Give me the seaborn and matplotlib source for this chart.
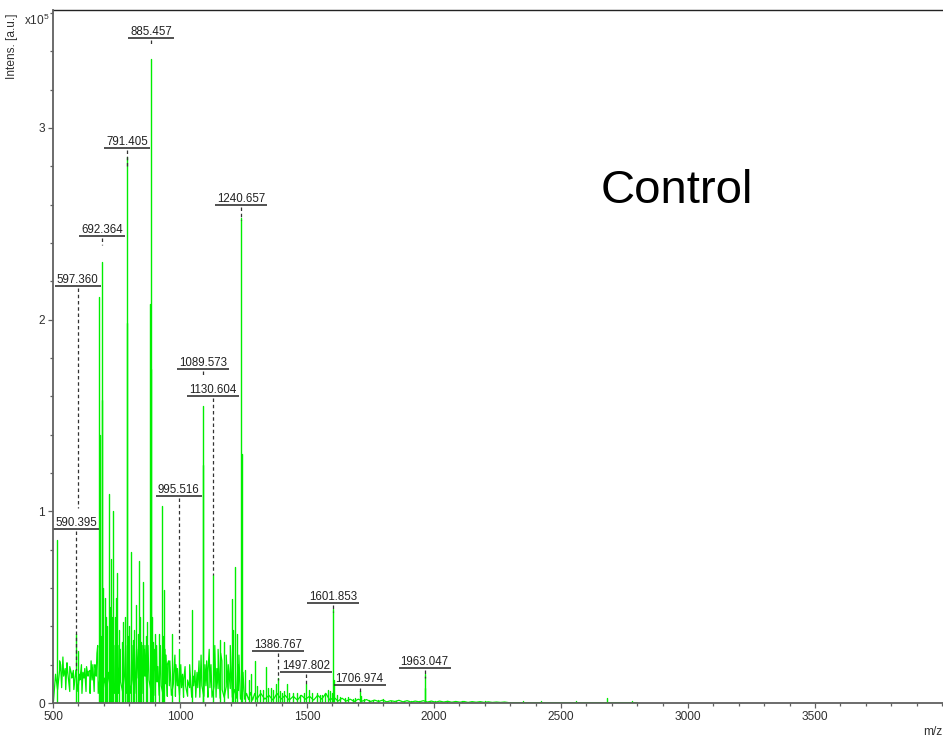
import numpy as np
import pandas as pd
import matplotlib
matplotlib.use("Agg")
import matplotlib.pyplot as plt
import seaborn as sns
from matplotlib.ticker import MultipleLocator

# ---------------- data (intensity in units of 1e5 a.u.) ----------------
# resolved peaks, drawn as sticks from the baseline
peak_mz = [516, 590.395, 597.360, 681, 684, 688, 692.364, 694, 698, 703, 709, 714, 720, 724,
           728, 732, 736, 744, 748, 752, 760, 770, 775, 782, 791.405, 793, 797, 800, 807,
           815, 820, 826, 833, 840, 844, 848, 855, 866, 870, 880, 885.457, 887, 891, 895,
           903, 917, 929, 933, 937, 968, 995.516, 1047, 1089.573, 1092, 1130.604, 1157,
           1173, 1205, 1210, 1217, 1224, 1240.657, 1243, 1256, 1270, 1280, 1295,
           1305, 1315, 1325, 1338, 1345, 1357, 1365, 1377, 1386.767, 1395, 1400, 1410,
           1421, 1430, 1445, 1460, 1472, 1490, 1497.802, 1508, 1520, 1539, 1550, 1560,
           1570, 1583, 1590, 1598, 1601.853, 1606, 1620, 1630, 1650, 1660, 1680, 1690,
           1706.974, 1712, 1725, 1744, 1760, 1780, 1800, 1830, 1850, 1880, 1909, 1940,
           1963.047, 1966, 1985, 2004, 2050, 2110, 2200, 2350, 2420, 2560, 2680, 2780]
peak_int = [0.85, 0.36, 0.27, 2.12, 1.40, 0.35, 2.30, 1.58, 0.60, 0.55, 0.45, 0.40, 1.09, 0.50,
            0.75, 0.45, 1.00, 0.45, 0.55, 0.68, 0.38, 0.32, 0.42, 0.45, 2.85, 1.98, 0.35, 0.40, 0.79,
            0.33, 0.38, 0.51, 0.36, 0.74, 0.45, 0.32, 0.63, 0.35, 0.42, 2.08, 3.36, 1.74, 0.45, 0.32,
            0.36, 0.36, 1.03, 0.35, 0.59, 0.36, 0.28, 0.485, 1.55, 1.24, 0.67, 0.33,
            0.32, 0.54, 0.38, 0.71, 0.36, 2.53, 1.30, 0.17, 0.12, 0.15, 0.22,
            0.09, 0.07, 0.07, 0.19, 0.08, 0.08, 0.07, 0.10, 0.13, 0.06, 0.05, 0.06,
            0.10, 0.05, 0.05, 0.05, 0.04, 0.05, 0.10, 0.07, 0.05, 0.05, 0.04, 0.04,
            0.05, 0.07, 0.06, 0.05, 0.49, 0.12, 0.04, 0.03, 0.025, 0.03, 0.02, 0.025,
            0.06, 0.035, 0.02, 0.015, 0.015, 0.015, 0.02, 0.012, 0.012, 0.010, 0.012, 0.010,
            0.15, 0.08, 0.012, 0.012, 0.008, 0.010, 0.008, 0.012, 0.010, 0.008, 0.025, 0.008]

# small peaks riding on the chemical noise (part of the profile trace)
minor_mz = [526, 530, 539, 545, 548, 555, 566, 573, 580, 604, 612, 618, 625, 632, 638, 645,
            650, 657, 665, 668, 673, 676, 740, 756, 765, 786, 811, 829, 837, 851, 858, 862,
            874, 899, 908, 913, 923, 941, 945, 950, 955, 960, 975, 980, 984, 990, 1003, 1010,
            1015, 1020, 1030, 1038, 1052, 1059, 1067, 1075, 1083, 1098, 1105, 1110, 1115,
            1122, 1137, 1145, 1150, 1160, 1165, 1182, 1190, 1198, 1228, 1232, 1248]
minor_int = [0.22, 0.20, 0.24, 0.16, 0.18, 0.21, 0.19, 0.15, 0.17, 0.15, 0.20, 0.16, 0.18, 0.19, 0.16, 0.17,
             0.22, 0.20, 0.20, 0.18, 0.26, 0.30, 0.30, 0.30, 0.28, 0.30, 0.30, 0.28, 0.30, 0.30, 0.28, 0.30,
             0.30, 0.28, 0.30, 0.19, 0.30, 0.28, 0.25, 0.20, 0.22, 0.22, 0.15, 0.25, 0.20, 0.18, 0.20, 0.15,
             0.12, 0.19, 0.12, 0.20, 0.14, 0.17, 0.16, 0.22, 0.25, 0.20, 0.22, 0.16, 0.28,
             0.20, 0.30, 0.18, 0.28, 0.26, 0.22, 0.25, 0.20, 0.30, 0.20, 0.25, 0.16]

# background noise, 502..1294 sampled every 8 Da
noise_lo_int = [0.01, 0.15, 0.07, 0.17, 0.08, 0.14, 0.07, 0.16, 0.06, 0.13,
                0.07, 0.17, 0.06, 0.12, 0.05, 0.13, 0.06, 0.14, 0.05, 0.12,
                0.06, 0.14, 0.05, 0.15, 0.06, 0.13, 0.05, 0.16, 0.06, 0.14,
                0.05, 0.13, 0.05, 0.11, 0.06, 0.15, 0.05, 0.12, 0.05, 0.12,
                0.05, 0.13, 0.06, 0.11, 0.05, 0.14, 0.05, 0.12, 0.06, 0.13,
                0.04, 0.11, 0.04, 0.09, 0.04, 0.10, 0.035, 0.09, 0.04, 0.10,
                0.035, 0.09, 0.04, 0.08, 0.03, 0.09, 0.035, 0.08, 0.03, 0.09,
                0.03, 0.08, 0.03, 0.09, 0.035, 0.09, 0.03, 0.08, 0.03, 0.085,
                0.03, 0.075, 0.025, 0.07, 0.03, 0.085, 0.025, 0.075, 0.03, 0.07,
                0.025, 0.065, 0.02, 0.06, 0.02, 0.05, 0.018, 0.055, 0.015, 0.05]
# background noise, 1302..2294 sampled every 16 Da
noise_hi_int = [0.02, 0.05, 0.02, 0.04, 0.015, 0.05, 0.02, 0.04, 0.015, 0.035,
                0.015, 0.04, 0.02, 0.035, 0.015, 0.04, 0.02, 0.05, 0.015, 0.03,
                0.01, 0.025, 0.01, 0.02, 0.008, 0.02, 0.01, 0.018, 0.008, 0.015,
                0.008, 0.015, 0.006, 0.012, 0.008, 0.014, 0.006, 0.012, 0.005, 0.01,
                0.006, 0.012, 0.005, 0.01, 0.004, 0.01, 0.005, 0.009, 0.004, 0.008,
                0.004, 0.008, 0.003, 0.007, 0.004, 0.007, 0.003, 0.006, 0.003, 0.005,
                0.003, 0.005, 0.002]
tail_mz = [500, 2310, 2800]
tail_int = [0.0, 0.002, 0.002]

labels = ["885.457", "791.405", "692.364", "597.360", "590.395", "1240.657", "1089.573",
          "1130.604", "995.516", "1601.853", "1386.767", "1497.802", "1706.974", "1963.047"]
# layout of the annotations (underline level, leader end level) in data units
label_line_y = [3.470, 2.896, 2.437, 2.176, 0.908, 2.598, 1.743, 1.602, 1.080, 0.522,
                0.271, 0.162, 0.092, 0.183]
label_leader_end = [3.428, 2.797, 2.390, 1.017, 0.172, 2.520, 1.700, 0.668, 0.313, 0.475,
                    0.120, 0.094, 0.057, 0.130]

xticks = [500, 1000, 1500, 2000, 2500, 3000, 3500]
yticks = [0, 1, 2, 3]

# ---------------- build tables ----------------
noise_lo_mz = 502 + 8 * np.arange(len(noise_lo_int))
noise_hi_mz = 1302 + 16 * np.arange(len(noise_hi_int))
profile = pd.DataFrame({
    "mz": np.concatenate([tail_mz, noise_lo_mz, noise_hi_mz, minor_mz]).astype(float),
    "intensity": np.concatenate([tail_int, noise_lo_int, noise_hi_int, minor_int]).astype(float),
}).sort_values("mz", kind="mergesort").reset_index(drop=True)
n = len(peak_mz)
sticks = pd.DataFrame({
    "peak": np.repeat(np.arange(n), 2),
    "mz": np.repeat(np.asarray(peak_mz, float), 2),
    "intensity": np.ravel(np.column_stack([np.zeros(n), np.asarray(peak_int, float)])),
})

# ---------------- figure ----------------
sns.set_style("ticks")
plt.rcParams["font.family"] = ["Liberation Sans", "DejaVu Sans"]
plt.rcParams["mathtext.fontset"] = "custom"
plt.rcParams["mathtext.rm"] = "Liberation Sans"
plt.rcParams["mathtext.it"] = "Liberation Sans:italic"

W, H = 943, 737
fig = plt.figure(figsize=(W / 100, H / 100), dpi=100)
ax = fig.add_axes([53 / W, 34 / H, 890 / W, 693 / H])

green = "#00ee00"
sns.lineplot(data=profile, x="mz", y="intensity", estimator=None, sort=False,
             color=green, linewidth=0.9, ax=ax)
sns.lineplot(data=sticks, x="mz", y="intensity", units="peak", estimator=None, sort=False,
             color=green, linewidth=1.0, ax=ax)

ax.set_xlim(500, 500 + 890 / 0.254)
ax.set_ylim(0, 693 / 191.67)
ax.set_xlabel("")
ax.set_ylabel("")
ax.set_xticks(xticks)
ax.set_xticklabels([str(t) for t in xticks])
ax.set_yticks(yticks)
ax.set_yticklabels([str(t) for t in yticks])
ax.xaxis.set_minor_locator(MultipleLocator(100))
ax.yaxis.set_minor_locator(MultipleLocator(0.2))
ax.tick_params(which="major", length=3.4, width=0.9, color="#606060",
               labelsize=8.6, labelcolor="#303030", pad=2.5, direction="out")
ax.tick_params(which="minor", length=2.4, width=0.9, color="#606060", direction="out")

for s in ["left", "bottom"]:
    ax.spines[s].set_color("#606060")
    ax.spines[s].set_linewidth(1.3)
    ax.spines[s].set_zorder(3)
ax.spines["top"].set_color("#222222")
ax.spines["top"].set_linewidth(1.0)
ax.spines["right"].set_visible(False)

# peak annotations
texts = []
for lab, ly in zip(labels, label_line_y):
    t = ax.annotate(lab, xy=(float(lab), ly), xytext=(0, 2.3), textcoords="offset points",
                    ha="center", va="baseline", fontsize=8.3, color="#222222")
    texts.append(t)
fig.canvas.draw()
renderer = fig.canvas.get_renderer()
inv = ax.transData.inverted()
for t, lab, ly, le in zip(texts, labels, label_line_y, label_leader_end):
    bb = t.get_window_extent(renderer)
    x0 = inv.transform((bb.x0 - 2, 0))[0]
    x1 = inv.transform((bb.x1 + 2, 0))[0]
    ax.plot([x0, x1], [ly, ly], color="#333333", lw=1.2, solid_capstyle="butt")
    ax.plot([float(lab), float(lab)], [ly - 0.012, le], color="#333333", lw=0.9,
            linestyle=(0, (2.8, 2.2)))

# other texts
fig.text(12 / W, 1 - 46 / H, "Intens. [a.u.]", rotation=90, ha="center", va="center",
         fontsize=8.6, color="#303030")
fig.text(50 / W, 1 - 20 / H, r"x10$^{5}$", ha="right", va="center", fontsize=8.6,
         color="#303030")
fig.text(942 / W, 1 - 732 / H, "m/z", ha="right", va="center", fontsize=8.6, color="#303030")
fig.text(677 / W, 1 - 203 / H, "Control", ha="center", va="baseline", fontsize=34,
         color="black")

fig.savefig("out.png", dpi=100)
